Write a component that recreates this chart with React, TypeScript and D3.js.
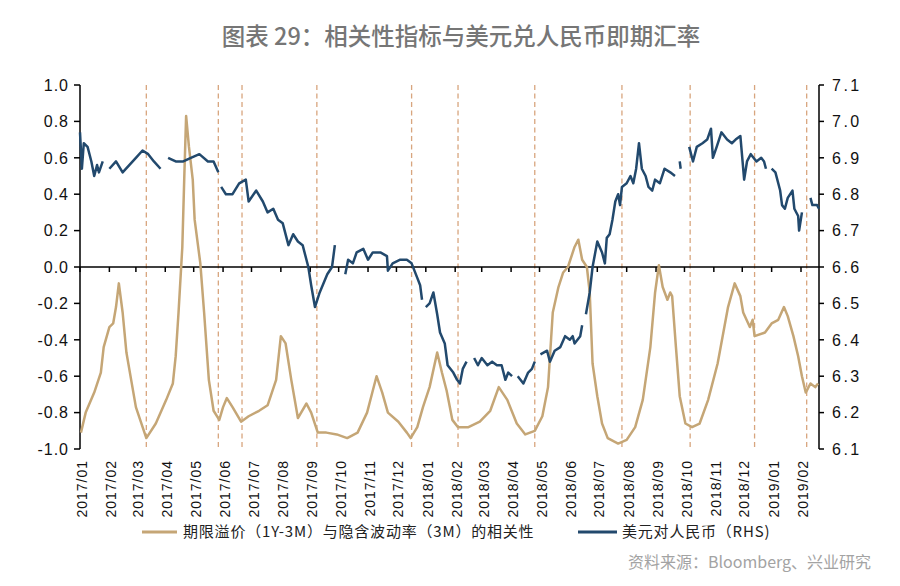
import React from "react";
import * as d3 from "d3";

const title = "图表 29：相关性指标与美元兑人民币即期汇率";
const legendCorr = "期限溢价（1Y-3M）与隐含波动率（3M）的相关性";
const legendUsd = "美元对人民币（RHS)";
const source = "资料来源：Bloomberg、兴业研究";

const leftTicks = [1.0, 0.8, 0.6, 0.4, 0.2, 0.0, -0.2, -0.4, -0.6, -0.8, -1.0];
const leftTickLabels = ["1.0", "0.8", "0.6", "0.4", "0.2", "0.0", "-0.2", "-0.4", "-0.6", "-0.8", "-1.0"];
const rightTicks = [7.1, 7.0, 6.9, 6.8, 6.7, 6.6, 6.5, 6.4, 6.3, 6.2, 6.1];
const rightTickLabels = ["7.1", "7.0", "6.9", "6.8", "6.7", "6.6", "6.5", "6.4", "6.3", "6.2", "6.1"];

const monthTicks = [
  "2017-01-01", "2017-02-01", "2017-03-01", "2017-04-01", "2017-05-01", "2017-06-01",
  "2017-07-01", "2017-08-01", "2017-09-01", "2017-10-01", "2017-11-01", "2017-12-01",
  "2018-01-01", "2018-02-01", "2018-03-01", "2018-04-01", "2018-05-01", "2018-06-01",
  "2018-07-01", "2018-08-01", "2018-09-01", "2018-10-01", "2018-11-01", "2018-12-01",
  "2019-01-01", "2019-02-01",
];
const monthLabels = [
  "2017/01", "2017/02", "2017/03", "2017/04", "2017/05", "2017/06",
  "2017/07", "2017/08", "2017/09", "2017/10", "2017/11", "2017/12",
  "2018/01", "2018/02", "2018/03", "2018/04", "2018/05", "2018/06",
  "2018/07", "2018/08", "2018/09", "2018/10", "2018/11", "2018/12",
  "2019/01", "2019/02",
];

const eventDates = [
  "2017-03-12", "2017-05-27", "2017-06-21", "2017-09-08", "2017-12-17",
  "2018-02-04", "2018-04-26", "2018-07-27", "2018-10-07", "2018-12-14", "2019-02-07",
];

const corrDates = [
  "2017-01-02", "2017-01-07", "2017-01-16", "2017-01-23", "2017-01-26", "2017-02-01", "2017-02-05",
  "2017-02-08", "2017-02-11", "2017-02-15", "2017-02-19", "2017-02-24", "2017-03-01", "2017-03-12",
  "2017-03-22", "2017-04-02", "2017-04-09", "2017-04-12", "2017-04-15", "2017-04-19", "2017-04-21",
  "2017-04-23", "2017-04-26", "2017-04-30", "2017-05-02", "2017-05-08", "2017-05-12", "2017-05-17",
  "2017-05-22", "2017-05-28", "2017-06-01", "2017-06-05", "2017-06-11", "2017-06-20", "2017-06-28",
  "2017-07-09", "2017-07-18", "2017-07-27", "2017-08-01", "2017-08-06", "2017-08-12", "2017-08-19",
  "2017-08-28", "2017-09-02", "2017-09-09", "2017-09-18", "2017-09-29", "2017-10-10", "2017-10-21",
  "2017-10-31", "2017-11-06", "2017-11-10", "2017-11-16", "2017-11-22", "2017-12-03", "2017-12-12",
  "2017-12-16", "2017-12-23", "2017-12-29", "2018-01-05", "2018-01-13", "2018-01-18", "2018-01-23",
  "2018-01-29", "2018-02-04", "2018-02-15", "2018-02-27", "2018-03-10", "2018-03-19", "2018-03-28",
  "2018-04-07", "2018-04-16", "2018-04-26", "2018-05-04", "2018-05-10", "2018-05-15", "2018-05-21",
  "2018-05-26", "2018-05-31", "2018-06-07", "2018-06-11", "2018-06-15", "2018-06-20", "2018-06-23",
  "2018-06-26", "2018-07-01", "2018-07-06", "2018-07-12", "2018-07-23", "2018-08-01", "2018-08-10",
  "2018-08-18", "2018-08-26", "2018-08-31", "2018-09-04", "2018-09-08", "2018-09-13", "2018-09-16",
  "2018-09-18", "2018-09-22", "2018-09-26", "2018-10-02", "2018-10-09", "2018-10-17", "2018-10-26",
  "2018-11-05", "2018-11-16", "2018-11-23", "2018-11-29", "2018-12-02", "2018-12-09", "2018-12-12",
  "2018-12-14", "2018-12-25", "2019-01-01", "2019-01-08", "2019-01-14", "2019-01-18", "2019-01-24",
  "2019-01-29", "2019-02-02", "2019-02-06", "2019-02-11", "2019-02-16", "2019-02-19",
];
const corrValues = [
  -0.91, -0.80, -0.69, -0.58, -0.44, -0.33, -0.31,
  -0.22, -0.09, -0.25, -0.47, -0.62, -0.77, -0.94,
  -0.86, -0.73, -0.64, -0.49, -0.25, 0.11, 0.48,
  0.83, 0.66, 0.48, 0.26, 0.02, -0.25, -0.62,
  -0.79, -0.84, -0.77, -0.72, -0.77, -0.85, -0.82,
  -0.79, -0.76, -0.62, -0.38, -0.42, -0.62, -0.83,
  -0.75, -0.80, -0.91, -0.91, -0.92, -0.94, -0.91,
  -0.80, -0.68, -0.60, -0.69, -0.80, -0.85, -0.91,
  -0.94, -0.88, -0.77, -0.66, -0.47, -0.58, -0.68,
  -0.84, -0.88, -0.88, -0.85, -0.79, -0.66, -0.73,
  -0.86, -0.92, -0.90, -0.82, -0.66, -0.25, -0.11,
  -0.03, 0.00, 0.11, 0.15, 0.04, 0.00, -0.14,
  -0.53, -0.71, -0.86, -0.94, -0.97, -0.95, -0.88,
  -0.73, -0.44, -0.14, 0.01, -0.11, -0.18, -0.14,
  -0.16, -0.44, -0.71, -0.86, -0.88, -0.86, -0.73,
  -0.53, -0.22, -0.09, -0.16, -0.25, -0.33, -0.29,
  -0.38, -0.36, -0.31, -0.29, -0.22, -0.27, -0.38,
  -0.49, -0.60, -0.69, -0.64, -0.66, -0.64,
];

const usdDates = [
  "2017-01-01", "2017-01-03", "2017-01-05", "2017-01-09", "2017-01-13", "2017-01-16", "2017-01-19",
  "2017-01-21", "2017-01-25", "2017-01-28",
  "2017-02-01", "2017-02-08", "2017-02-15", "2017-02-22", "2017-03-01", "2017-03-08", "2017-03-14",
  "2017-03-20", "2017-03-27", "2017-03-30",
  "2017-04-04", "2017-04-12", "2017-04-20", "2017-04-28", "2017-05-07", "2017-05-16", "2017-05-22",
  "2017-05-27", "2017-05-29",
  "2017-05-30", "2017-06-04", "2017-06-11", "2017-06-18", "2017-06-25", "2017-06-28", "2017-07-06",
  "2017-07-13", "2017-07-18", "2017-07-24", "2017-07-29", "2017-08-03", "2017-08-09", "2017-08-14",
  "2017-08-19", "2017-08-24", "2017-08-30", "2017-09-02", "2017-09-06", "2017-09-11", "2017-09-19",
  "2017-09-24", "2017-09-27", "2017-10-01",
  "2017-10-08", "2017-10-11", "2017-10-16", "2017-10-20", "2017-10-27", "2017-11-01", "2017-11-06",
  "2017-11-14", "2017-11-21", "2017-11-22", "2017-11-27", "2017-12-05", "2017-12-12", "2017-12-17",
  "2017-12-23", "2017-12-26", "2017-12-28", "2017-12-30",
  "2018-01-01", "2018-01-05", "2018-01-09", "2018-01-13", "2018-01-16", "2018-01-21", "2018-01-24",
  "2018-01-30", "2018-02-03", "2018-02-06", "2018-02-09", "2018-02-13", "2018-02-16",
  "2018-02-21", "2018-02-25", "2018-03-01", "2018-03-07", "2018-03-12", "2018-03-17", "2018-03-22",
  "2018-03-26", "2018-03-29", "2018-04-02", "2018-04-04",
  "2018-04-08", "2018-04-14", "2018-04-19", "2018-04-23", "2018-04-26", "2018-04-29",
  "2018-05-02", "2018-05-09", "2018-05-12", "2018-05-17", "2018-05-23", "2018-05-28", "2018-06-02",
  "2018-06-05", "2018-06-07", "2018-06-13", "2018-06-15", "2018-06-17",
  "2018-06-19", "2018-06-23", "2018-06-26", "2018-07-01", "2018-07-06", "2018-07-09", "2018-07-11",
  "2018-07-14", "2018-07-17", "2018-07-20", "2018-07-23", "2018-07-25", "2018-07-27", "2018-08-01",
  "2018-08-05", "2018-08-08", "2018-08-11", "2018-08-14", "2018-08-17", "2018-08-21", "2018-08-24",
  "2018-08-28", "2018-08-31", "2018-09-05", "2018-09-10", "2018-09-16", "2018-09-21", "2018-09-24",
  "2018-09-26", "2018-09-27", "2018-09-30",
  "2018-10-06", "2018-10-10", "2018-10-14", "2018-10-20", "2018-10-25", "2018-10-29", "2018-10-31",
  "2018-11-04", "2018-11-09", "2018-11-15", "2018-11-20", "2018-11-24", "2018-11-29", "2018-12-03",
  "2018-12-06", "2018-12-10", "2018-12-16", "2018-12-21", "2018-12-24", "2018-12-26", "2018-12-28",
  "2019-01-01", "2019-01-05", "2019-01-10", "2019-01-12", "2019-01-15", "2019-01-18", "2019-01-23",
  "2019-01-25", "2019-01-29", "2019-01-30", "2019-02-02", "2019-02-05",
  "2019-02-11", "2019-02-13", "2019-02-18", "2019-02-20",
];
const usdValues: (number | null)[] = [
  6.97, 6.87, 6.94, 6.93, 6.89, 6.85, 6.88,
  6.86, 6.89, null,
  6.87, 6.89, 6.86, 6.88, 6.90, 6.92, 6.91,
  6.89, 6.87, null,
  6.90, 6.89, 6.89, 6.90, 6.91, 6.89, 6.89,
  6.86, null,
  6.82, 6.80, 6.80, 6.83, 6.84, 6.78, 6.81,
  6.78, 6.75, 6.76, 6.73, 6.72, 6.66, 6.69,
  6.67, 6.66, 6.60, 6.55, 6.49, 6.53, 6.58,
  6.60, 6.66, null,
  6.58, 6.62, 6.61, 6.64, 6.65, 6.62, 6.64,
  6.64, 6.63, 6.59, 6.61, 6.62, 6.62, 6.61,
  6.57, 6.55, 6.51, null,
  6.49, 6.50, 6.53, 6.47, 6.42, 6.39, 6.33,
  6.31, 6.29, 6.28, 6.32, 6.34, null,
  6.35, 6.33, 6.35, 6.33, 6.34, 6.33, 6.33,
  6.29, 6.31, 6.30, null,
  6.30, 6.28, 6.31, 6.32, 6.34, null,
  6.36, 6.37, 6.34, 6.37, 6.38, 6.41, 6.40,
  6.41, 6.39, 6.41, 6.44, null,
  6.47, 6.53, 6.60, 6.67, 6.64, 6.61, 6.68,
  6.69, 6.73, 6.78, 6.80, 6.77, 6.82, 6.83,
  6.85, 6.83, 6.87, 6.94, 6.87, 6.85, 6.82,
  6.81, 6.84, 6.83, 6.87, 6.86, 6.85, null,
  6.89, 6.87, null,
  6.93, 6.89, 6.93, 6.94, 6.95, 6.98, 6.90,
  6.93, 6.97, 6.95, 6.94, 6.95, 6.96, 6.84,
  6.89, 6.91, 6.89, 6.90, 6.89, 6.87, null,
  6.87, 6.86, 6.81, 6.77, 6.76, 6.79, 6.81,
  6.76, 6.74, 6.70, 6.75, null,
  6.79, 6.77, 6.77, 6.76,
];

const W = 900;
const H = 586;
const X0 = 80;
const X1 = 819;
const YT = 85;
const YB = 449;

const parse = d3.timeParse("%Y-%m-%d");

export default function App() {
  const x = d3.scaleTime().domain([parse("2017-01-01")!, parse("2019-02-20")!]).range([X0, X1]);
  const yL = d3.scaleLinear().domain([-1, 1]).range([YB, YT]);
  const yR = d3.scaleLinear().domain([6.1, 7.1]).range([YB, YT]);

  const corr = corrDates.map((d, i) => ({ d: parse(d)!, v: corrValues[i] }));
  const usd = usdDates.map((d, i) => ({ d: parse(d)!, v: usdValues[i] }));

  const corrLine = d3
    .line<{ d: Date; v: number }>()
    .x((p) => x(p.d))
    .y((p) => yL(p.v))
    .curve(d3.curveLinear);
  const usdLine = d3
    .line<{ d: Date; v: number | null }>()
    .defined((p) => p.v !== null)
    .x((p) => x(p.d))
    .y((p) => yR(p.v as number));

  const y0 = yL(0);
  const tan = "#c5a676";
  const blue = "#22496d";
  const dashCol = "#d8a57e";
  const latin = "'Liberation Sans', Arial, sans-serif";
  const cjk = "'Noto Sans CJK SC', 'Noto Sans', sans-serif";

  return (
    <svg
      width={W}
      height={H}
      style={{ position: "absolute", left: 0, top: 0, background: "#fff" }}
      xmlns="http://www.w3.org/2000/svg"
    >
      <rect width={W} height={H} fill="#fff" />
      <text x={461} y={45} textAnchor="middle" fontFamily={cjk} fontSize={23.5} fontWeight={500} fill="#767676">
        {title}
      </text>

      {/* event dashed lines */}
      {eventDates.map((d) => (
        <line
          key={d}
          x1={x(parse(d)!)}
          x2={x(parse(d)!)}
          y1={YT}
          y2={YB}
          stroke={dashCol}
          strokeWidth={1.3}
          strokeDasharray="5,3.5"
        />
      ))}

      {/* left axis */}
      <line x1={X0} x2={X0} y1={YT} y2={YB} stroke="#000" strokeWidth={1.5} />
      {leftTicks.map((t, i) => (
        <g key={"l" + i}>
          <line x1={X0 - 6} x2={X0} y1={yL(t)} y2={yL(t)} stroke="#000" strokeWidth={1.5} />
          <text
            x={X0 - 11}
            y={yL(t)}
            dy="0.36em"
            textAnchor="end"
            fontFamily={latin}
            fontSize={16}
            letterSpacing={1}
            fill="#111"
          >
            {leftTickLabels[i]}
          </text>
        </g>
      ))}

      {/* right axis */}
      <line x1={X1} x2={X1} y1={YT} y2={YB} stroke="#000" strokeWidth={1.5} />
      {rightTicks.map((t, i) => (
        <g key={"r" + i}>
          <line x1={X1} x2={X1 + 5} y1={yR(t)} y2={yR(t)} stroke="#000" strokeWidth={1.5} />
          <text
            x={X1 + 13}
            y={yR(t)}
            dy="0.36em"
            textAnchor="start"
            fontFamily={latin}
            fontSize={16}
            letterSpacing={2.5}
            fill="#111"
          >
            {rightTickLabels[i]}
          </text>
        </g>
      ))}

      {/* zero axis with month ticks */}
      <line x1={X0} x2={X1} y1={y0} y2={y0} stroke="#000" strokeWidth={1.5} />
      {monthTicks.map((m, i) => {
        const xp = x(parse(m)!);
        return (
          <g key={m}>
            <line x1={xp} x2={xp} y1={y0} y2={y0 + 5} stroke="#000" strokeWidth={1.5} />
            <text
              transform={`translate(${xp + 2},460) rotate(-90)`}
              textAnchor="end"
              dy="0.36em"
              fontFamily={latin}
              fontSize={14}
              letterSpacing={1}
              fill="#111"
            >
              {monthLabels[i]}
            </text>
          </g>
        );
      })}

      {/* series */}
      <path d={corrLine(corr) || ""} fill="none" stroke={tan} strokeWidth={2.5} strokeLinejoin="round" />
      <path d={usdLine(usd) || ""} fill="none" stroke={blue} strokeWidth={2.5} strokeLinejoin="round" />

      {/* legend */}
      <line x1={142} x2={177} y1={532} y2={532} stroke={tan} strokeWidth={3} />
      <text x={183} y={532} dy="0.36em" fontFamily={cjk} fontSize={15} letterSpacing={0.8} fill="#222">
        {legendCorr}
      </text>
      <line x1={578} x2={617} y1={532} y2={532} stroke={blue} strokeWidth={3} />
      <text x={622} y={532} dy="0.36em" fontFamily={cjk} fontSize={15} letterSpacing={0.8} fill="#222">
        {legendUsd}
      </text>

      <text x={628} y={562} dy="0.36em" fontFamily={cjk} fontSize={16} fill="#a3a3a3">
        {source}
      </text>
    </svg>
  );
}
